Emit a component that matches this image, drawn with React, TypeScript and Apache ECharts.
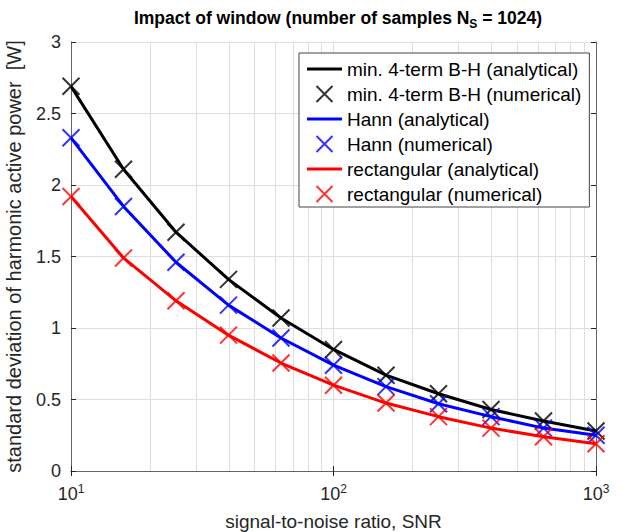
import React, { useEffect, useRef } from 'react';
import * as echarts from 'echarts';

// SNR values (x)
const snr = [10, 15.85, 25.12, 39.81, 63.1, 100, 158.5, 251.2, 398.1, 631, 1000];

// min. 4-term Blackman-Harris
const bhAnalytical = [2.69, 2.11, 1.67, 1.34, 1.07, 0.85, 0.67, 0.54, 0.43, 0.35, 0.28];
const bhNumerical = [2.69, 2.11, 1.67, 1.34, 1.07, 0.85, 0.67, 0.54, 0.43, 0.35, 0.28];
// Hann
const hannAnalytical = [2.33, 1.85, 1.46, 1.16, 0.93, 0.74, 0.59, 0.47, 0.38, 0.30, 0.25];
const hannNumerical = [2.33, 1.85, 1.46, 1.16, 0.93, 0.74, 0.59, 0.47, 0.38, 0.30, 0.25];
// rectangular
const rectAnalytical = [1.92, 1.49, 1.19, 0.95, 0.755, 0.60, 0.475, 0.38, 0.30, 0.24, 0.19];
const rectNumerical = [1.92, 1.49, 1.19, 0.95, 0.755, 0.60, 0.475, 0.38, 0.30, 0.24, 0.19];

const xMinorGrid = [20, 30, 40, 50, 60, 70, 80, 90, 200, 300, 400, 500, 600, 700, 800, 900];

const names = [
  'min. 4-term B-H (analytical)',
  'min. 4-term B-H (numerical)',
  'Hann (analytical)',
  'Hann (numerical)',
  'rectangular (analytical)',
  'rectangular (numerical)',
];
const colors = ['#000000', '#0000ff', '#ff0000'];

const FONT = "'Liberation Sans', Arial, Helvetica, sans-serif";
const X_PATH = 'path://M0,0L10,10M10,0L0,10';
const LINE_ICON = 'path://M0,0h35v3h-35z';

const pairs = (ys: number[]) => snr.map((x, i) => [x, ys[i]]);

export default function App() {
  const ref = useRef<HTMLDivElement>(null);
  useEffect(() => {
    const chart = echarts.init(ref.current!, null, { renderer: 'svg' });
    const groups = [
      [bhAnalytical, bhNumerical],
      [hannAnalytical, hannNumerical],
      [rectAnalytical, rectNumerical],
    ];
    const series: any[] = [];
    groups.forEach((g, gi) => {
      series.push({
        name: names[gi * 2],
        type: 'line',
        data: pairs(g[0]),
        symbol: 'none',
        lineStyle: { color: colors[gi], width: 3 },
        itemStyle: { color: colors[gi] },
        z: 3 + gi * 2,
        silent: true,
      });
      series.push({
        name: names[gi * 2 + 1],
        type: 'scatter',
        data: pairs(g[1]),
        symbol: X_PATH,
        symbolSize: 17,
        symbolKeepAspect: true,
        itemStyle: { color: 'transparent', borderColor: colors[gi], borderWidth: 2 },
        z: 4 + gi * 2,
        silent: true,
      });
    });
    // minor vertical grid lines
    series[0].markLine = {
      silent: true,
      symbol: 'none',
      z: 0,
      label: { show: false },
      lineStyle: { color: '#dedede', width: 1, type: 'solid' },
      data: xMinorGrid.map((v) => ({ xAxis: v })),
    };

    const option: any = {
      animation: false,
      backgroundColor: '#ffffff',
      title: {
        text: '{a|Impact of window (number of samples N}{s|S}{a| = 1024)}',
        left: 333,
        textAlign: 'center',
        top: 1,
        textStyle: {
          rich: {
            a: { fontSize: 17.5, fontWeight: 'bold', fontFamily: FONT, color: '#000', lineHeight: 24 },
            s: { fontSize: 12, fontWeight: 'bold', fontFamily: FONT, color: '#000', lineHeight: 12, verticalAlign: 'bottom' },
          },
        },
      },
      grid: { left: 71, top: 42, right: 36, bottom: 61, containLabel: false, outerBoundsMode: 'none' },
      legend: {
        orient: 'vertical',
        left: 299,
        top: 53,
        padding: [5, 8, 2, 8],
        itemGap: 3,
        itemWidth: 35,
        itemHeight: 16,
        borderColor: '#444',
        borderWidth: 1,
        borderRadius: 0,
        backgroundColor: '#ffffff',
        selectedMode: false,
        textStyle: { fontSize: 19, fontFamily: FONT, color: '#000', lineHeight: 22 },
        data: names.map((n, i) => {
          const c = colors[Math.floor(i / 2)];
          return i % 2 === 0
            ? { name: n, icon: LINE_ICON, itemStyle: { color: c, borderWidth: 0 } }
            : { name: n, icon: X_PATH, itemStyle: { color: 'transparent', borderColor: c, borderWidth: 2 } };
        }),
      },
      xAxis: [
        {
          type: 'log',
          logBase: 10,
          min: 10,
          max: 1000,
          position: 'bottom',
          name: 'signal-to-noise ratio, SNR',
          nameLocation: 'middle',
          nameGap: 41,
          nameTextStyle: { fontSize: 19, fontFamily: FONT, color: '#262626' },
          axisLine: { show: true, lineStyle: { color: '#666', width: 1 } },
          axisTick: { show: true, inside: true, length: 5, lineStyle: { color: '#262626' } },
          splitLine: { show: true, lineStyle: { color: '#dedede', width: 1 } },
          axisLabel: {
            margin: 12,
            formatter: (v: number) => '{b|10}{s|' + Math.round(Math.log10(v)) + '}',
            rich: {
              b: { fontSize: 18, fontFamily: FONT, color: '#262626', lineHeight: 22 },
              s: { fontSize: 12, fontFamily: FONT, color: '#262626', lineHeight: 12, verticalAlign: 'top' },
            },
          },
        },
        {
          type: 'log',
          logBase: 10,
          min: 10,
          max: 1000,
          position: 'top',
          axisLine: { show: true, lineStyle: { color: '#666', width: 1 } },
          axisTick: { show: true, inside: true, length: 5, lineStyle: { color: '#262626' } },
          axisLabel: { show: false },
          splitLine: { show: false },
        },
      ],
      yAxis: [
        {
          type: 'value',
          min: 0,
          max: 3,
          interval: 0.5,
          position: 'left',
          name: 'standard deviation of harmonic active power  [W]',
          nameLocation: 'middle',
          nameRotate: 90,
          nameGap: 47,
          nameTextStyle: { fontSize: 20, fontFamily: FONT, color: '#262626' },
          axisLine: { show: true, lineStyle: { color: '#666', width: 1 } },
          axisTick: { show: true, inside: true, length: 5, lineStyle: { color: '#262626' } },
          splitLine: { show: true, lineStyle: { color: '#dedede', width: 1 } },
          axisLabel: { fontSize: 18, fontFamily: FONT, color: '#262626', margin: 10 },
        },
        {
          type: 'value',
          min: 0,
          max: 3,
          interval: 0.5,
          position: 'right',
          axisLine: { show: true, lineStyle: { color: '#666', width: 1 } },
          axisTick: { show: true, inside: true, length: 5, lineStyle: { color: '#262626' } },
          axisLabel: { show: false },
          splitLine: { show: false },
        },
      ],
      series,
    };
    chart.setOption(option);
    return () => chart.dispose();
  }, []);
  return <div ref={ref} style={{ position: 'absolute', left: 0, top: 0, width: 632, height: 532 }} />;
}
